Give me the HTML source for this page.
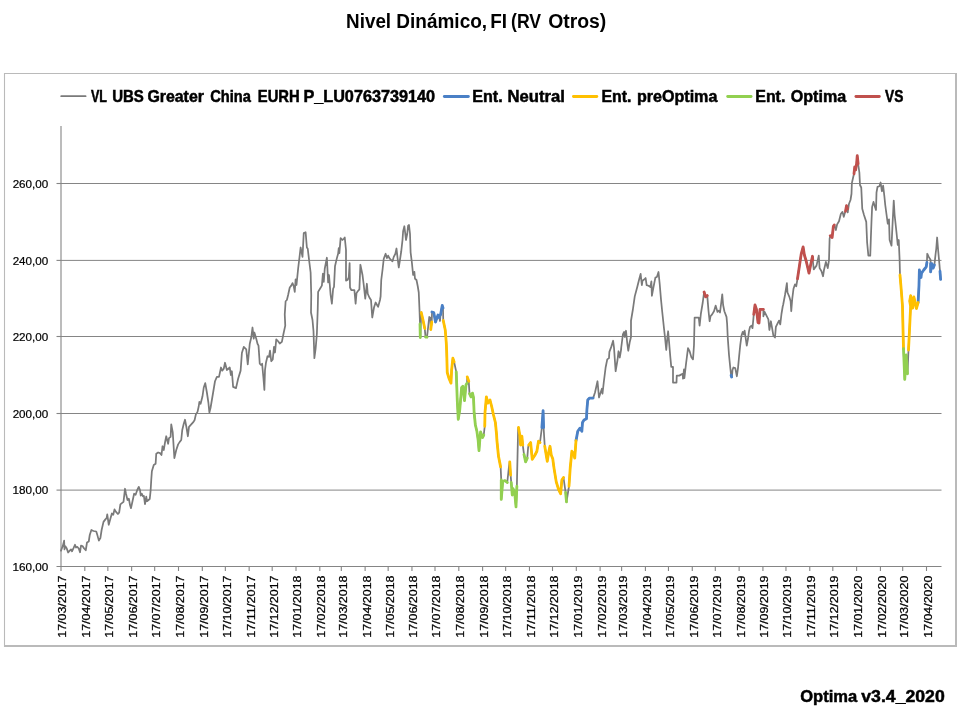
<!DOCTYPE html>
<html lang="es"><head><meta charset="utf-8"><title>Nivel Dinámico, FI (RV Otros)</title>
<style>
html,body{margin:0;padding:0;background:#fff;}
body{width:960px;height:720px;overflow:hidden;}
svg{display:block;}
text{font-family:"Liberation Sans",sans-serif;fill:#000;}
.t{font-weight:bold;font-size:19.4px;}
.lg{font-weight:bold;font-size:16.3px;stroke:#000;stroke-width:0.5px;}
.lgL{stroke-width:0.8px;}
.ft{font-weight:bold;font-size:17.2px;stroke:#000;stroke-width:0.5px;}
.ax{font-size:11.3px;fill:#000;stroke:#000;stroke-width:0.2px;}
.ax2{font-size:11.2px;fill:#000;stroke:#000;stroke-width:0.25px;}
</style></head><body>
<svg width="960" height="720" viewBox="0 0 960 720">
<rect width="960" height="720" fill="#fff"/>
<text class="t" y="27.9"><tspan x="346.12" textLength="44.99" lengthAdjust="spacingAndGlyphs">Nivel</tspan> <tspan x="396.31" textLength="90.81" lengthAdjust="spacingAndGlyphs">Dinámico,</tspan> <tspan x="490.32" textLength="16.80" lengthAdjust="spacingAndGlyphs">FI</tspan> <tspan x="511.07" textLength="30.09" lengthAdjust="spacingAndGlyphs">(RV</tspan> <tspan x="548.14" textLength="58.16" lengthAdjust="spacingAndGlyphs">Otros)</tspan></text>
<g stroke="#bababa" fill="none"><line x1="4.5" y1="73" x2="4.5" y2="647" stroke-width="1.1"/><line x1="4" y1="73.5" x2="957" y2="73.5" stroke-width="1.1"/><line x1="956" y1="73" x2="956" y2="647" stroke-width="2"/><line x1="4" y1="646" x2="957" y2="646" stroke-width="2"/></g>

<g stroke="#858585" stroke-width="1" fill="none">
<line x1="61.0" y1="490.1" x2="941.5" y2="490.1"/>
<line x1="61.0" y1="413.5" x2="941.5" y2="413.5"/>
<line x1="61.0" y1="336.5" x2="941.5" y2="336.5"/>
<line x1="61.0" y1="260.4" x2="941.5" y2="260.4"/>
<line x1="61.0" y1="183.5" x2="941.5" y2="183.5"/>
</g>
<g stroke="#858585" stroke-width="1.1" fill="none">
<line x1="61.0" y1="126" x2="61.0" y2="566.5"/>
<line x1="56.5" y1="566.5" x2="941.5" y2="566.5"/>
<line x1="56.5" y1="490.1" x2="61.0" y2="490.1"/>
<line x1="56.5" y1="413.5" x2="61.0" y2="413.5"/>
<line x1="56.5" y1="336.5" x2="61.0" y2="336.5"/>
<line x1="56.5" y1="260.4" x2="61.0" y2="260.4"/>
<line x1="56.5" y1="183.5" x2="61.0" y2="183.5"/>
<line x1="61.00" y1="566.5" x2="61.00" y2="571.0"/>
<line x1="84.81" y1="566.5" x2="84.81" y2="571.0"/>
<line x1="107.85" y1="566.5" x2="107.85" y2="571.0"/>
<line x1="131.65" y1="566.5" x2="131.65" y2="571.0"/>
<line x1="154.69" y1="566.5" x2="154.69" y2="571.0"/>
<line x1="178.50" y1="566.5" x2="178.50" y2="571.0"/>
<line x1="202.31" y1="566.5" x2="202.31" y2="571.0"/>
<line x1="225.35" y1="566.5" x2="225.35" y2="571.0"/>
<line x1="249.15" y1="566.5" x2="249.15" y2="571.0"/>
<line x1="272.19" y1="566.5" x2="272.19" y2="571.0"/>
<line x1="296.00" y1="566.5" x2="296.00" y2="571.0"/>
<line x1="319.81" y1="566.5" x2="319.81" y2="571.0"/>
<line x1="341.31" y1="566.5" x2="341.31" y2="571.0"/>
<line x1="365.12" y1="566.5" x2="365.12" y2="571.0"/>
<line x1="388.15" y1="566.5" x2="388.15" y2="571.0"/>
<line x1="411.96" y1="566.5" x2="411.96" y2="571.0"/>
<line x1="435.00" y1="566.5" x2="435.00" y2="571.0"/>
<line x1="458.81" y1="566.5" x2="458.81" y2="571.0"/>
<line x1="482.61" y1="566.5" x2="482.61" y2="571.0"/>
<line x1="505.65" y1="566.5" x2="505.65" y2="571.0"/>
<line x1="529.46" y1="566.5" x2="529.46" y2="571.0"/>
<line x1="552.50" y1="566.5" x2="552.50" y2="571.0"/>
<line x1="576.31" y1="566.5" x2="576.31" y2="571.0"/>
<line x1="600.11" y1="566.5" x2="600.11" y2="571.0"/>
<line x1="621.62" y1="566.5" x2="621.62" y2="571.0"/>
<line x1="645.42" y1="566.5" x2="645.42" y2="571.0"/>
<line x1="668.46" y1="566.5" x2="668.46" y2="571.0"/>
<line x1="692.27" y1="566.5" x2="692.27" y2="571.0"/>
<line x1="715.31" y1="566.5" x2="715.31" y2="571.0"/>
<line x1="739.12" y1="566.5" x2="739.12" y2="571.0"/>
<line x1="762.92" y1="566.5" x2="762.92" y2="571.0"/>
<line x1="785.96" y1="566.5" x2="785.96" y2="571.0"/>
<line x1="809.77" y1="566.5" x2="809.77" y2="571.0"/>
<line x1="832.81" y1="566.5" x2="832.81" y2="571.0"/>
<line x1="856.61" y1="566.5" x2="856.61" y2="571.0"/>
<line x1="880.42" y1="566.5" x2="880.42" y2="571.0"/>
<line x1="902.69" y1="566.5" x2="902.69" y2="571.0"/>
<line x1="926.50" y1="566.5" x2="926.50" y2="571.0"/>
</g>
<g class="ax">
<text class="ax" x="12.47" y="570.7" textLength="35.82" lengthAdjust="spacingAndGlyphs">160,00</text>
<text class="ax" x="12.47" y="494.3" textLength="35.82" lengthAdjust="spacingAndGlyphs">180,00</text>
<text class="ax" x="12.65" y="417.7" textLength="35.64" lengthAdjust="spacingAndGlyphs">200,00</text>
<text class="ax" x="12.65" y="340.7" textLength="35.64" lengthAdjust="spacingAndGlyphs">220,00</text>
<text class="ax" x="12.65" y="264.6" textLength="35.64" lengthAdjust="spacingAndGlyphs">240,00</text>
<text class="ax" x="12.65" y="187.7" textLength="35.64" lengthAdjust="spacingAndGlyphs">260,00</text>
<text class="ax2" x="-0.78" y="0" textLength="62.28" lengthAdjust="spacingAndGlyphs" transform="translate(66.40 637) rotate(-90)">17/03/2017</text>
<text class="ax2" x="-0.78" y="0" textLength="62.28" lengthAdjust="spacingAndGlyphs" transform="translate(90.21 637) rotate(-90)">17/04/2017</text>
<text class="ax2" x="-0.78" y="0" textLength="62.28" lengthAdjust="spacingAndGlyphs" transform="translate(113.25 637) rotate(-90)">17/05/2017</text>
<text class="ax2" x="-0.78" y="0" textLength="62.28" lengthAdjust="spacingAndGlyphs" transform="translate(137.05 637) rotate(-90)">17/06/2017</text>
<text class="ax2" x="-0.78" y="0" textLength="62.28" lengthAdjust="spacingAndGlyphs" transform="translate(160.09 637) rotate(-90)">17/07/2017</text>
<text class="ax2" x="-0.78" y="0" textLength="62.28" lengthAdjust="spacingAndGlyphs" transform="translate(183.90 637) rotate(-90)">17/08/2017</text>
<text class="ax2" x="-0.78" y="0" textLength="62.28" lengthAdjust="spacingAndGlyphs" transform="translate(207.71 637) rotate(-90)">17/09/2017</text>
<text class="ax2" x="-0.78" y="0" textLength="62.28" lengthAdjust="spacingAndGlyphs" transform="translate(230.75 637) rotate(-90)">17/10/2017</text>
<text class="ax2" x="-0.79" y="0" textLength="62.30" lengthAdjust="spacingAndGlyphs" transform="translate(254.55 637) rotate(-90)">17/11/2017</text>
<text class="ax2" x="-0.78" y="0" textLength="62.28" lengthAdjust="spacingAndGlyphs" transform="translate(277.59 637) rotate(-90)">17/12/2017</text>
<text class="ax2" x="-0.78" y="0" textLength="62.28" lengthAdjust="spacingAndGlyphs" transform="translate(301.40 637) rotate(-90)">17/01/2018</text>
<text class="ax2" x="-0.78" y="0" textLength="62.28" lengthAdjust="spacingAndGlyphs" transform="translate(325.21 637) rotate(-90)">17/02/2018</text>
<text class="ax2" x="-0.78" y="0" textLength="62.28" lengthAdjust="spacingAndGlyphs" transform="translate(346.71 637) rotate(-90)">17/03/2018</text>
<text class="ax2" x="-0.78" y="0" textLength="62.28" lengthAdjust="spacingAndGlyphs" transform="translate(370.52 637) rotate(-90)">17/04/2018</text>
<text class="ax2" x="-0.78" y="0" textLength="62.28" lengthAdjust="spacingAndGlyphs" transform="translate(393.55 637) rotate(-90)">17/05/2018</text>
<text class="ax2" x="-0.78" y="0" textLength="62.28" lengthAdjust="spacingAndGlyphs" transform="translate(417.36 637) rotate(-90)">17/06/2018</text>
<text class="ax2" x="-0.78" y="0" textLength="62.28" lengthAdjust="spacingAndGlyphs" transform="translate(440.40 637) rotate(-90)">17/07/2018</text>
<text class="ax2" x="-0.78" y="0" textLength="62.28" lengthAdjust="spacingAndGlyphs" transform="translate(464.21 637) rotate(-90)">17/08/2018</text>
<text class="ax2" x="-0.78" y="0" textLength="62.28" lengthAdjust="spacingAndGlyphs" transform="translate(488.01 637) rotate(-90)">17/09/2018</text>
<text class="ax2" x="-0.78" y="0" textLength="62.28" lengthAdjust="spacingAndGlyphs" transform="translate(511.05 637) rotate(-90)">17/10/2018</text>
<text class="ax2" x="-0.79" y="0" textLength="62.30" lengthAdjust="spacingAndGlyphs" transform="translate(534.86 637) rotate(-90)">17/11/2018</text>
<text class="ax2" x="-0.78" y="0" textLength="62.28" lengthAdjust="spacingAndGlyphs" transform="translate(557.90 637) rotate(-90)">17/12/2018</text>
<text class="ax2" x="-0.78" y="0" textLength="62.28" lengthAdjust="spacingAndGlyphs" transform="translate(581.71 637) rotate(-90)">17/01/2019</text>
<text class="ax2" x="-0.78" y="0" textLength="62.28" lengthAdjust="spacingAndGlyphs" transform="translate(605.51 637) rotate(-90)">17/02/2019</text>
<text class="ax2" x="-0.78" y="0" textLength="62.28" lengthAdjust="spacingAndGlyphs" transform="translate(627.02 637) rotate(-90)">17/03/2019</text>
<text class="ax2" x="-0.78" y="0" textLength="62.28" lengthAdjust="spacingAndGlyphs" transform="translate(650.82 637) rotate(-90)">17/04/2019</text>
<text class="ax2" x="-0.78" y="0" textLength="62.28" lengthAdjust="spacingAndGlyphs" transform="translate(673.86 637) rotate(-90)">17/05/2019</text>
<text class="ax2" x="-0.78" y="0" textLength="62.28" lengthAdjust="spacingAndGlyphs" transform="translate(697.67 637) rotate(-90)">17/06/2019</text>
<text class="ax2" x="-0.78" y="0" textLength="62.28" lengthAdjust="spacingAndGlyphs" transform="translate(720.71 637) rotate(-90)">17/07/2019</text>
<text class="ax2" x="-0.78" y="0" textLength="62.28" lengthAdjust="spacingAndGlyphs" transform="translate(744.52 637) rotate(-90)">17/08/2019</text>
<text class="ax2" x="-0.78" y="0" textLength="62.28" lengthAdjust="spacingAndGlyphs" transform="translate(768.32 637) rotate(-90)">17/09/2019</text>
<text class="ax2" x="-0.78" y="0" textLength="62.28" lengthAdjust="spacingAndGlyphs" transform="translate(791.36 637) rotate(-90)">17/10/2019</text>
<text class="ax2" x="-0.79" y="0" textLength="62.30" lengthAdjust="spacingAndGlyphs" transform="translate(815.17 637) rotate(-90)">17/11/2019</text>
<text class="ax2" x="-0.78" y="0" textLength="62.28" lengthAdjust="spacingAndGlyphs" transform="translate(838.21 637) rotate(-90)">17/12/2019</text>
<text class="ax2" x="-0.78" y="0" textLength="62.08" lengthAdjust="spacingAndGlyphs" transform="translate(862.01 637) rotate(-90)">17/01/2020</text>
<text class="ax2" x="-0.78" y="0" textLength="62.08" lengthAdjust="spacingAndGlyphs" transform="translate(885.82 637) rotate(-90)">17/02/2020</text>
<text class="ax2" x="-0.78" y="0" textLength="62.08" lengthAdjust="spacingAndGlyphs" transform="translate(908.09 637) rotate(-90)">17/03/2020</text>
<text class="ax2" x="-0.78" y="0" textLength="62.08" lengthAdjust="spacingAndGlyphs" transform="translate(931.90 637) rotate(-90)">17/04/2020</text>
</g>
<line x1="61.2" y1="96.2" x2="85.6" y2="96.2" stroke="#7a7a7a" stroke-width="1.75" stroke-linecap="round"/>
<text class="lg" y="101.6"><tspan x="91.00" textLength="15.81" lengthAdjust="spacingAndGlyphs">VL</tspan> <tspan x="112.20" textLength="31.70" lengthAdjust="spacingAndGlyphs">UBS</tspan> <tspan x="147.40" textLength="56.57" lengthAdjust="spacingAndGlyphs">Greater</tspan> <tspan x="210.14" textLength="40.77" lengthAdjust="spacingAndGlyphs">China</tspan> <tspan x="257.83" textLength="41.90" lengthAdjust="spacingAndGlyphs">EURH</tspan> <tspan x="303.39" textLength="131.77" lengthAdjust="spacingAndGlyphs">P_LU0763739140</tspan></text>
<line x1="444.3" y1="96.5" x2="468.4" y2="96.5" stroke="#4a80c6" stroke-width="2.8" stroke-linecap="round"/>
<text class="lg" y="101.6"><tspan x="472.24" textLength="30.46" lengthAdjust="spacingAndGlyphs">Ent.</tspan> <tspan x="507.56" textLength="57.43" lengthAdjust="spacingAndGlyphs">Neutral</tspan></text>
<line x1="573.4" y1="96.5" x2="596.85" y2="96.5" stroke="#ffc000" stroke-width="2.8" stroke-linecap="round"/>
<text class="lg" y="101.6"><tspan x="601.51" textLength="29.93" lengthAdjust="spacingAndGlyphs">Ent.</tspan> <tspan x="636.89" textLength="80.50" lengthAdjust="spacingAndGlyphs">preOptima</tspan></text>
<line x1="727.65" y1="96.5" x2="751.1" y2="96.5" stroke="#92d050" stroke-width="2.8" stroke-linecap="round"/>
<text class="lg" y="101.6"><tspan x="755.25" textLength="30.09" lengthAdjust="spacingAndGlyphs">Ent.</tspan> <tspan x="790.75" textLength="55.40" lengthAdjust="spacingAndGlyphs">Optima</tspan></text>
<line x1="855.9" y1="96.5" x2="879.35" y2="96.5" stroke="#c0504d" stroke-width="2.8" stroke-linecap="round"/>
<text class="lg" y="101.6"><tspan x="885.00" textLength="18.36" lengthAdjust="spacingAndGlyphs">VS</tspan></text>
<path d="M61 550.62 L62.88 545.62 L64.12 540.62 L64.5 549.38 L65.38 546.25 L66.62 548.12 L68.12 552.5 L69.75 550.62 L71 549.38 L72 551.25 L73.5 548.12 L75 544.75 L76 547.5 L77.25 546.88 L78.75 548.5 L80 552.25 L81 545.62 L82.5 546 L84.12 548.5 L85.75 550.25 L87 542.5 L88.75 541.5 L89.75 535 L91.38 530 L93.5 531 L96.25 531.5 L97.5 535.62 L98.88 540.62 L100.38 538.12 L101.62 530 L103.5 521.88 L105.38 519.38 L106.62 518.12 L107.25 514.38 L108.75 524.75 L110.38 518.75 L111.88 513.5 L113.25 514.75 L114.5 509.38 L116 511.88 L117.88 514 L119.12 512.75 L120.38 504.38 L121.88 503.12 L123.5 501.88 L125 488.75 L126 493.75 L127.5 500 L128.88 498.75 L130 505 L131 508.12 L132.5 501.25 L134.12 493.75 L135.62 494.75 L137.25 490 L138.75 486.88 L140 490 L140.75 495.62 L141.88 493.75 L142.88 496.25 L143.88 496 L145 504.12 L146.25 496.62 L147 501.25 L148.5 500 L149.75 499 L150.62 490.62 L151.25 480 L151.88 471.25 L153.75 465 L155.62 463.75 L156.25 453.75 L158.12 452.5 L160 453.12 L161.5 455 L162.5 446.25 L163.75 450 L165 442.5 L166.25 436.25 L168.12 443.75 L169 438.12 L170.62 436.88 L171.25 424.38 L172.75 432.5 L174.38 458.12 L176.25 450 L178.12 444.38 L179.75 441.88 L181.25 440 L182.25 430 L183.75 423.75 L185 419.75 L186.5 427.5 L187.88 436.25 L189 426.88 L191.25 424.38 L193.5 421.88 L194.62 420 L195.88 414.38 L197.5 411.88 L198.75 406.25 L199.38 401.88 L200.62 403.75 L202.5 396.25 L203.75 387.5 L205.25 383.12 L206.88 392.5 L208.38 402.5 L209.38 412.5 L210.62 407.5 L212.5 396.25 L215 381.25 L216.88 376.88 L219 376.88 L221 367.5 L222.25 370.62 L223.75 368.75 L225 362.75 L226.88 370 L229.75 367.5 L230.88 375 L231.88 371.25 L233.12 386.88 L236 388.12 L238.12 378.75 L240.62 370.62 L241.88 353.12 L243.75 346.88 L246.25 349.38 L247.75 364.38 L249.75 343.75 L251.25 337.5 L252.5 327.5 L253.75 338.75 L254.38 332.5 L256.25 338.75 L257.5 343.75 L258.5 345.62 L259.75 363.75 L261 365 L262.12 363.75 L263.5 378.75 L264.38 390 L265 370 L266 362.5 L267.5 356.25 L269 356.88 L270 350.62 L271.25 361.25 L272.75 359.38 L274 346.88 L275 352.5 L276.25 339.38 L278.12 341.25 L279.75 343.5 L281.88 341.88 L283.5 333.75 L285.25 325.62 L284.75 314.38 L285.62 301.25 L286.88 300 L288.12 295 L289.75 287.5 L291.25 285.62 L292.5 283.12 L293.75 286.25 L294.75 291.88 L295.62 279.38 L296.5 285 L298.12 268.75 L299.75 255 L300.62 247.5 L301.5 251.88 L302.5 256.88 L303.75 233.12 L305.62 232.25 L306.88 247.5 L307.75 248.75 L309.38 262.5 L310.62 272.5 L311.25 295 L311 312.5 L312.5 320 L313.5 331.25 L314.38 358.12 L315.62 348.75 L316.88 333.75 L317.75 308.75 L318.12 291.88 L320 288.75 L321.88 285.62 L322.88 273.75 L323.75 281.88 L324.75 268.75 L326.88 257.75 L328.12 282.5 L329 275 L330.62 295 L331.88 303.75 L333.12 288.75 L334 286.88 L335 266.25 L336.88 258.12 L338.12 253.75 L338.75 248.12 L339.38 253.12 L340.62 238.12 L342.5 240 L343.75 238.75 L344.75 237.5 L346 250 L346 280.62 L347.5 280 L348.75 277.5 L349.62 263.12 L350 287.5 L351.25 290 L354.38 290 L355.62 303.75 L356.5 293.12 L357.75 291.25 L359.38 289.38 L360.38 264.75 L362.5 275 L363.75 285 L365.25 298.75 L366.88 283.75 L367.75 293.75 L369.38 297.5 L371 300 L372.25 317.5 L374 307.5 L375.62 302.5 L378.12 306.88 L380 300 L380.62 296.25 L381.25 280 L382.5 270 L383.75 258.75 L385.62 253.75 L386.88 258.12 L388.12 255.62 L389.38 258.12 L391 260 L392.5 261.25 L393.75 256.88 L395.38 253.75 L396.5 248.5 L397.5 257.5 L398.75 267.5 L399.75 261.25 L401.25 251.25 L402.5 240 L403.12 231.25 L404.38 226.25 L406 240 L407.25 233.75 L408.12 225.62 L409 225 L410 233.75 L410.62 252.5 L411.88 262.5 L413.12 275 L414.38 271.88 L415 278.75 L416.5 280 L417.75 286.25 L418.75 292.5 L419.5 310 L420 324 L420.3 337.5 L421.25 312.5 L423 320 L424.75 328.5 L425.5 337 L427 337.2 L428.25 326 L429.25 317 L430.5 318 L430.75 329.5 L431.75 322 L432 312 L433.75 312.5 L435.5 322 L438 315 L439.25 317.5 L440 321 L440.5 315 L442.25 305.5 L443 308 L443.25 320.5 L445.25 330 L446.25 342.5 L446.62 350 L447.25 372.5 L449.12 378.75 L451 383.12 L451.62 370 L452.88 358.12 L454.12 361.88 L456.25 371.88 L457.25 400 L458.25 419.38 L459.75 410 L461.62 387.5 L462.88 386.25 L464.5 400.62 L466 385 L467 383.12 L467.25 376.88 L468.75 381.25 L469.5 393.75 L471 396.88 L472.5 393.12 L473.5 397.5 L474.12 412.5 L475.38 425 L476.88 431.25 L478.12 440 L479 450.62 L480 437.5 L480.62 431.88 L482.5 437.5 L483.75 435 L484.75 426.25 L485 412.5 L486.38 396.88 L487.88 403.12 L490 400 L491.62 406.25 L493.5 415 L495.38 422.5 L496.62 435 L496.88 440 L498.5 456.25 L500.62 466.88 L501.25 480 L501.25 499.38 L502.75 481.25 L505 480.62 L507.25 482.5 L509 466.25 L509.75 461.88 L510.62 475 L511.25 482.5 L512.25 495 L513.12 488.75 L514.75 493.12 L516 506.88 L516.88 486.25 L518.12 428.75 L518.5 427.5 L519.75 435 L520.62 445 L521.88 436.25 L522.75 445 L524 454.38 L525.62 461.88 L527.25 458.12 L528.12 447.5 L528.75 445 L530.62 442.5 L532.25 459.38 L535 455 L536.88 451.25 L538.5 441.25 L540 442.5 L541.88 427.5 L543.1 410.6 L543.6 427.5 L544.75 446.25 L547.25 461.25 L548.75 451.88 L550 446.25 L551.25 455 L552.75 458.75 L554 468.12 L556.25 481.88 L558.75 490 L560.62 493.75 L561.88 480 L563.5 477.5 L565.62 492.5 L566.5 501.88 L569 486.25 L570.25 467.5 L571.88 451.25 L573.75 453.75 L574.75 458.12 L576 440.62 L576.5 438.12 L577.75 431.25 L580 428.12 L581.88 431.25 L582.5 422.5 L584 420 L586.5 418.75 L586.88 410 L587.75 400 L589.38 398.12 L593.12 398.12 L595 392.5 L597.5 381.25 L599 397.5 L601.88 388.75 L602.5 393.75 L603.75 382.5 L605.62 367.5 L607.25 359.38 L609 358.12 L609.38 351.88 L611.25 346.88 L613.12 340.75 L614 347.5 L615.62 371.25 L617.5 360 L618.5 351.25 L619.75 357.5 L621.25 348.75 L621 349.5 L622.88 334.5 L624.12 332 L624.75 337 L626 330.75 L627.25 343.25 L628.25 350.75 L629.75 342 L631 337 L631 320.75 L632.88 309.5 L634.75 296.38 L637.25 287 L639.12 279.5 L640.62 273.88 L641.88 285.12 L642.5 280.75 L644.12 279.5 L645.62 278 L646.62 285.12 L648.5 285.75 L650.38 287 L651.38 281.38 L651.88 295.75 L653.5 287 L655.38 277.62 L656.88 277 L658.5 272 L659.75 284.5 L661 299.5 L662.25 312 L664.12 329.5 L665 337.5 L666.25 350 L667.5 336.25 L668.12 331.25 L669 341.25 L670.25 356.25 L671.25 366.88 L673 366.88 L673 382.5 L676.5 382.5 L676.75 375.62 L679.25 375.62 L681.5 374.38 L682.75 373.75 L683 378.75 L684 369.38 L684.38 378.12 L685.88 365 L688 348.12 L689.62 351.25 L691.25 356.88 L693 359.38 L694 345 L694.62 317.5 L698.75 317.5 L699.62 325.62 L700.88 313.75 L702.75 302.5 L704.1 292 L705.6 296.9 L707.25 295.6 L708.5 310.75 L709.62 321.25 L710.5 316.25 L712.12 314.38 L714 311.25 L715.62 305.62 L717.5 311.88 L718.75 310.62 L720 312.5 L721.25 302.5 L722.25 294.38 L723.12 305 L724.38 311.25 L726.5 316.88 L727.12 323.75 L727.75 337.5 L729 355 L730.25 367.5 L731.12 375.25 L731.62 377 L732.12 375 L732.5 370 L733.38 367.5 L735.25 368.12 L736.88 376.25 L738 368.12 L739 357.5 L740.25 345 L741.5 335.62 L742.75 331.88 L743.75 334.38 L744.62 330.62 L745.5 336.88 L746.75 345.62 L748 338.75 L749 331.25 L750 326.88 L751.5 325.62 L752.5 328.12 L753.38 318.75 L753.75 314.38 L755 305 L756.5 309.38 L758 322.5 L759 323.12 L760 309.38 L763.38 309.38 L763.38 316.25 L764.62 311.88 L766.5 315.62 L768.38 319.38 L769.38 330 L770.88 321.25 L772.12 328.12 L773.38 335.62 L775 337.5 L775.88 326.88 L777.12 324.38 L779 320.62 L780.25 324.38 L781.5 313.75 L782.75 306.25 L783.12 305 L785 295 L786.88 283.12 L787.5 292.5 L789.38 296.88 L790.62 301.25 L791.25 311.25 L792.25 298.75 L793.5 288.75 L795 284.38 L796.25 286.25 L797.5 278.75 L799.38 266.25 L801.25 253.75 L803.12 246.88 L804.38 255 L806.25 261.25 L809 273.12 L810.88 263.75 L812.5 256.25 L812.75 260 L813.75 269.38 L816.5 265.62 L818.75 255.62 L819.62 268.12 L821.5 271.25 L823 276.25 L824 270 L825.88 261.88 L827.75 268.12 L829 260 L829.62 238.75 L830.25 235.62 L832.12 237.5 L833.38 226.25 L834.25 225 L835.88 230 L837.12 224.38 L839 221.25 L840.88 213.75 L842.5 211.88 L843.75 216.88 L845 212.5 L845.5 211.25 L846.5 205.62 L847.5 208.75 L847.75 212.5 L849 203.75 L850.5 200 L851.5 193.75 L851.88 183.12 L853.12 177.5 L854 173.75 L854.75 166.88 L855.62 170 L856.5 165 L857.25 155.62 L858.12 163.75 L859.38 172.5 L860 185 L861.25 187.5 L862.25 208.75 L864 215 L866.25 221.88 L867.12 242.5 L868.38 255.62 L870.25 255.62 L870.88 237.5 L871.5 221.25 L872.12 206.88 L873.5 201.88 L874.75 206.25 L876 210 L876.5 192.5 L877.5 186.88 L879.38 186.25 L880.62 182.5 L881.88 191.25 L883.12 185.62 L884.38 196.25 L885.25 205 L887.75 223.75 L889 219.38 L889.62 240 L891.5 245.62 L892.75 220 L893.75 200.62 L894.62 215 L896.5 232.5 L897.75 245 L898.75 240 L899.62 260 L900 275 L901.25 290 L902.5 306.25 L902.75 318.75 L903.5 348.75 L904.75 379.38 L906.25 355 L907.5 373.75 L908.5 350 L909.75 325 L910.62 306.25 L909.7 301 L910.7 295.6 L912.7 308 L913.9 297 L916.4 308.5 L918.1 302.5 L919 285 L919.38 270 L921 277.5 L921.5 273.12 L923.75 270 L926.25 266.88 L926.88 262.5 L927.25 253.75 L928.75 256.88 L930.62 260 L930.62 263.75 L930.62 271.88 L931.88 263.75 L933.12 268.12 L934.38 265 L935.62 253.75 L936.25 248.75 L937.12 237.5 L938.12 250 L939.38 263.75 L940 271.25 L940.62 279.38" fill="none" stroke="#7a7a7a" stroke-width="1.75" stroke-linejoin="round" stroke-linecap="round"/>
<path d="M432 312 L433.75 312.5 L435.5 322 L438 315 L439.25 317.5 M440.5 315 L442.25 305.5 L443 308 M541.88 427.5 L543.1 410.6 L543.6 427.5 M576 440.62 L576.5 438.12 L577.75 431.25 L580 428.12 L581.88 431.25 L582.5 422.5 L584 420 L586.5 418.75 L586.88 410 L587.75 400 L589.38 398.12 L593.12 398.12 M731.12 375.25 L731.62 377 M918.1 302.5 L919 285 L919.38 270 L921 277.5 L921.5 273.12 L923.75 270 L926.25 266.88 L926.88 262.5 M930.62 263.75 L930.62 271.88 L931.88 263.75 L933.12 268.12 L934.38 265 M940 271.25 L940.62 279.38" fill="none" stroke="#4a80c6" stroke-width="2.8" stroke-linejoin="round" stroke-linecap="round"/>
<path d="M421.25 312.5 L423 320 L424.75 328.5 M430.75 329.5 L431.75 322 M443.25 320.5 L445.25 330 L446.25 342.5 L446.62 350 L447.25 372.5 L449.12 378.75 L451 383.12 L451.62 370 L452.88 358.12 L454.12 361.88 M467.25 376.88 L468.75 381.25 M484.75 426.25 L485 412.5 L486.38 396.88 L487.88 403.12 L490 400 L491.62 406.25 L493.5 415 L495.38 422.5 L496.62 435 L496.88 440 L498.5 456.25 L500.62 466.88 M509.75 461.88 L510.62 475 M518.5 427.5 L519.75 435 L520.62 445 L521.88 436.25 L522.75 445 M528.75 445 L530.62 442.5 L532.25 459.38 L535 455 L536.88 451.25 L538.5 441.25 L540 442.5 M544.75 446.25 L547.25 461.25 L548.75 451.88 L550 446.25 L551.25 455 L552.75 458.75 L554 468.12 L556.25 481.88 L558.75 490 L560.62 493.75 L561.88 480 L563.5 477.5 M569 486.25 L570.25 467.5 L571.88 451.25 L573.75 453.75 L574.75 458.12 L576 440.62 M900 275 L901.25 290 L902.5 306.25 L902.75 318.75 L903.5 348.75 M908.5 350 L909.75 325 L910.62 306.25 L909.7 301 L910.7 295.6 L912.7 308 L913.9 297 L916.4 308.5 L918.1 302.5" fill="none" stroke="#ffc000" stroke-width="2.8" stroke-linejoin="round" stroke-linecap="round"/>
<path d="M420 324 L420.3 337.5 M425.5 337 L427 337.2 M456.25 371.88 L457.25 400 L458.25 419.38 L459.75 410 L461.62 387.5 L462.88 386.25 L464.5 400.62 L466 385 L467 383.12 M469.5 393.75 L471 396.88 L472.5 393.12 L473.5 397.5 L474.12 412.5 L475.38 425 L476.88 431.25 L478.12 440 L479 450.62 L480 437.5 L480.62 431.88 L482.5 437.5 L483.75 435 M501.25 480 L501.25 499.38 L502.75 481.25 L505 480.62 L507.25 482.5 M511.25 482.5 L512.25 495 L513.12 488.75 L514.75 493.12 L516 506.88 L516.88 486.25 M524 454.38 L525.62 461.88 L527.25 458.12 M565.62 492.5 L566.5 501.88 M903.5 348.75 L904.75 379.38 L906.25 355 L907.5 373.75" fill="none" stroke="#92d050" stroke-width="2.8" stroke-linejoin="round" stroke-linecap="round"/>
<path d="M704.1 292 L705.6 296.9 L707.25 295.6 M753.75 314.38 L755 305 L756.5 309.38 L758 322.5 L759 323.12 L760 309.38 L763.38 309.38 M797.5 278.75 L799.38 266.25 L801.25 253.75 L803.12 246.88 L804.38 255 L806.25 261.25 L809 273.12 L810.88 263.75 L812.5 256.25 L812.75 260 M830.25 235.62 L832.12 237.5 L833.38 226.25 L834.25 225 M845.5 211.25 L846.5 205.62 L847.5 208.75 M854 173.75 L854.75 166.88 L855.62 170 L856.5 165 L857.25 155.62 L858.12 163.75" fill="none" stroke="#c0504d" stroke-width="2.8" stroke-linejoin="round" stroke-linecap="round"/>
<text class="ft" y="702.4"><tspan x="800.18" textLength="57.01" lengthAdjust="spacingAndGlyphs">Optima</tspan> <tspan x="861.30" textLength="83.42" lengthAdjust="spacingAndGlyphs">v3.4_2020</tspan></text>
</svg></body></html>
